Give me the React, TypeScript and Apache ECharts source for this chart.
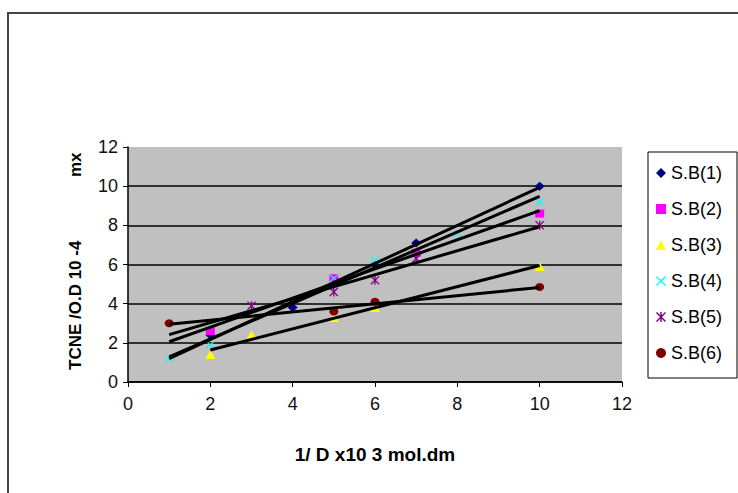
import React, { useEffect, useRef } from "react";
import * as echarts from "echarts";

// ---- data ----
const seriesNames = ["S.B(1)", "S.B(2)", "S.B(3)", "S.B(4)", "S.B(5)", "S.B(6)"];
const sb1X = [2, 4, 6, 7, 10];
const sb1Y = [2.4, 3.8, 6.0, 7.1, 10.0];
const sb2X = [2, 5, 7, 10];
const sb2Y = [2.6, 5.3, 6.6, 8.6];
const sb3X = [2, 3, 5, 6, 10];
const sb3Y = [1.4, 2.4, 3.3, 3.8, 5.9];
const sb4X = [1, 2, 5, 6, 8, 10];
const sb4Y = [1.2, 1.9, 5.3, 6.2, 7.6, 9.2];
const sb5X = [3, 5, 6, 7, 10];
const sb5Y = [3.9, 4.6, 5.2, 6.3, 8.0];
const sb6X = [1, 5, 6, 10];
const sb6Y = [3.0, 3.6, 4.1, 4.85];
// trendline x-range (Excel linear trendlines, backward forecast to x = 1)
const trendStart = [1, 1, 2, 1, 1, 1];
const trendEnd = [10, 10, 10, 10, 10, 10];
const xAxisTitle = "1/ D x10 3 mol.dm";
const yAxisTitleA = "TCNE /O.D 10 -4";
const yAxisTitleB = "mx";

const allX = [sb1X, sb2X, sb3X, sb4X, sb5X, sb6X];
const allY = [sb1Y, sb2Y, sb3Y, sb4Y, sb5Y, sb6Y];

const colors = ["#000080", "#FF00FF", "#FFFF00", "#00FFFF", "#800080", "#800000"];
const xPath =
  "path://M0,1 L1,0 L5,4 L9,0 L10,1 L6,5 L10,9 L9,10 L5,6 L1,10 L0,9 L4,5 Z";
const starPath =
  "path://M0,1 L1,0 L5,4 L9,0 L10,1 L6,5 L10,9 L9,10 L5,6 L1,10 L0,9 L4,5 Z M4.3,0 L5.7,0 L5.7,10 L4.3,10 Z";
const symbols = ["diamond", "rect", "triangle", xPath, starPath, "circle"];
const symbolSizes: any[] = [[10, 9], [9, 8], [10, 9], [9, 8], [9, 9], [9, 8]];

function fit(xs: number[], ys: number[]) {
  const n = xs.length;
  const mx = xs.reduce((s, v) => s + v, 0) / n;
  const my = ys.reduce((s, v) => s + v, 0) / n;
  let sxy = 0;
  let sxx = 0;
  for (let i = 0; i < n; i++) {
    sxy += (xs[i] - mx) * (ys[i] - my);
    sxx += (xs[i] - mx) * (xs[i] - mx);
  }
  const b = sxy / sxx;
  return { a: my - b * mx, b };
}

const FONT = "Liberation Sans, Arial, sans-serif";

export default function App() {
  const ref = useRef<HTMLDivElement>(null);
  useEffect(() => {
    if (!ref.current) return;
    const chart = echarts.init(ref.current, null, { renderer: "svg" });

    const scatterSeries = seriesNames.map((name, i) => ({
      name,
      type: "scatter",
      data: allX[i].map((x, j) => [x, allY[i][j]]),
      symbol: symbols[i],
      symbolSize: symbolSizes[i],
      itemStyle: { color: colors[i], opacity: 1 },
      z: 2,
      silent: true,
    }));

    const trendSeries = seriesNames.map((name, i) => {
      const { a, b } = fit(allX[i], allY[i]);
      const x0 = trendStart[i];
      const x1 = trendEnd[i];
      return {
        name: "trend " + name,
        type: "line",
        data: [
          [x0, a + b * x0],
          [x1, a + b * x1],
        ],
        symbol: "none",
        lineStyle: { color: "#000", width: 3 },
        z: 3,
        silent: true,
      };
    });

    const option: any = {
      animation: false,
      backgroundColor: "#fff",
      grid: {
        left: 128,
        top: 147,
        width: 494,
        height: 235,
        show: true,
        backgroundColor: "#C0C0C0",
        borderWidth: 0,
      },
      xAxis: {
        type: "value",
        min: 0,
        max: 12,
        interval: 2,
        name: xAxisTitle,
        nameLocation: "middle",
        nameGap: 63,
        nameTextStyle: { fontFamily: FONT, fontSize: 19, fontWeight: "bold", color: "#000" },
        axisLine: { show: true, onZero: false, lineStyle: { color: "#000", width: 1.5 } },
        axisTick: { show: true, inside: false, length: 5, lineStyle: { color: "#000", width: 1 } },
        splitLine: { show: false },
        axisLabel: { fontFamily: FONT, fontSize: 18, color: "#111", margin: 13 },
      },
      yAxis: {
        type: "value",
        min: 0,
        max: 12,
        interval: 2,
        axisLine: { show: true, onZero: false, lineStyle: { color: "#000", width: 1.5 } },
        axisTick: { show: true, inside: false, length: 5, lineStyle: { color: "#000", width: 1 } },
        splitLine: {
          show: true,
          lineStyle: {
            color: ["#000", "#000", "#000", "#000", "#000", "#000", "rgba(0,0,0,0)"],
            width: 1.5,
          },
        },
        axisLabel: { fontFamily: FONT, fontSize: 18, color: "#111", margin: 10 },
      },
      legend: {
        data: seriesNames,
        orient: "vertical",
        left: 656,
        top: 163,
        itemWidth: 10,
        itemHeight: 10,
        itemGap: 16,
        padding: 0,
        selectedMode: false,
        textStyle: { fontFamily: FONT, fontSize: 18, color: "#000", lineHeight: 20 },
      },
      graphic: [
        {
          type: "rect",
          shape: { x: 8, y: 13, width: 760, height: 500 },
          style: { fill: "none", stroke: "#444", lineWidth: 2 },
          silent: true,
          z: -10,
        },
        {
          type: "rect",
          shape: { x: 648, y: 152, width: 89, height: 226 },
          style: { fill: "#fff", stroke: "#000", lineWidth: 1 },
          silent: true,
          z: -5,
        },
        {
          type: "text",
          x: 75,
          y: 370,
          rotation: Math.PI / 2,
          style: {
            text: yAxisTitleA,
            font: "bold 17px " + FONT,
            fill: "#000",
            textAlign: "left",
            textVerticalAlign: "middle",
          },
          silent: true,
        },
        {
          type: "text",
          x: 75,
          y: 177,
          rotation: Math.PI / 2,
          style: {
            text: yAxisTitleB,
            font: "bold 17px " + FONT,
            fill: "#000",
            textAlign: "left",
            textVerticalAlign: "middle",
          },
          silent: true,
        },
      ],
      series: [...scatterSeries, ...trendSeries],
    };

    chart.setOption(option);
    return () => chart.dispose();
  }, []);

  return (
    <div
      ref={ref}
      style={{ position: "fixed", left: 0, top: 0, width: 738, height: 493 }}
    />
  );
}
